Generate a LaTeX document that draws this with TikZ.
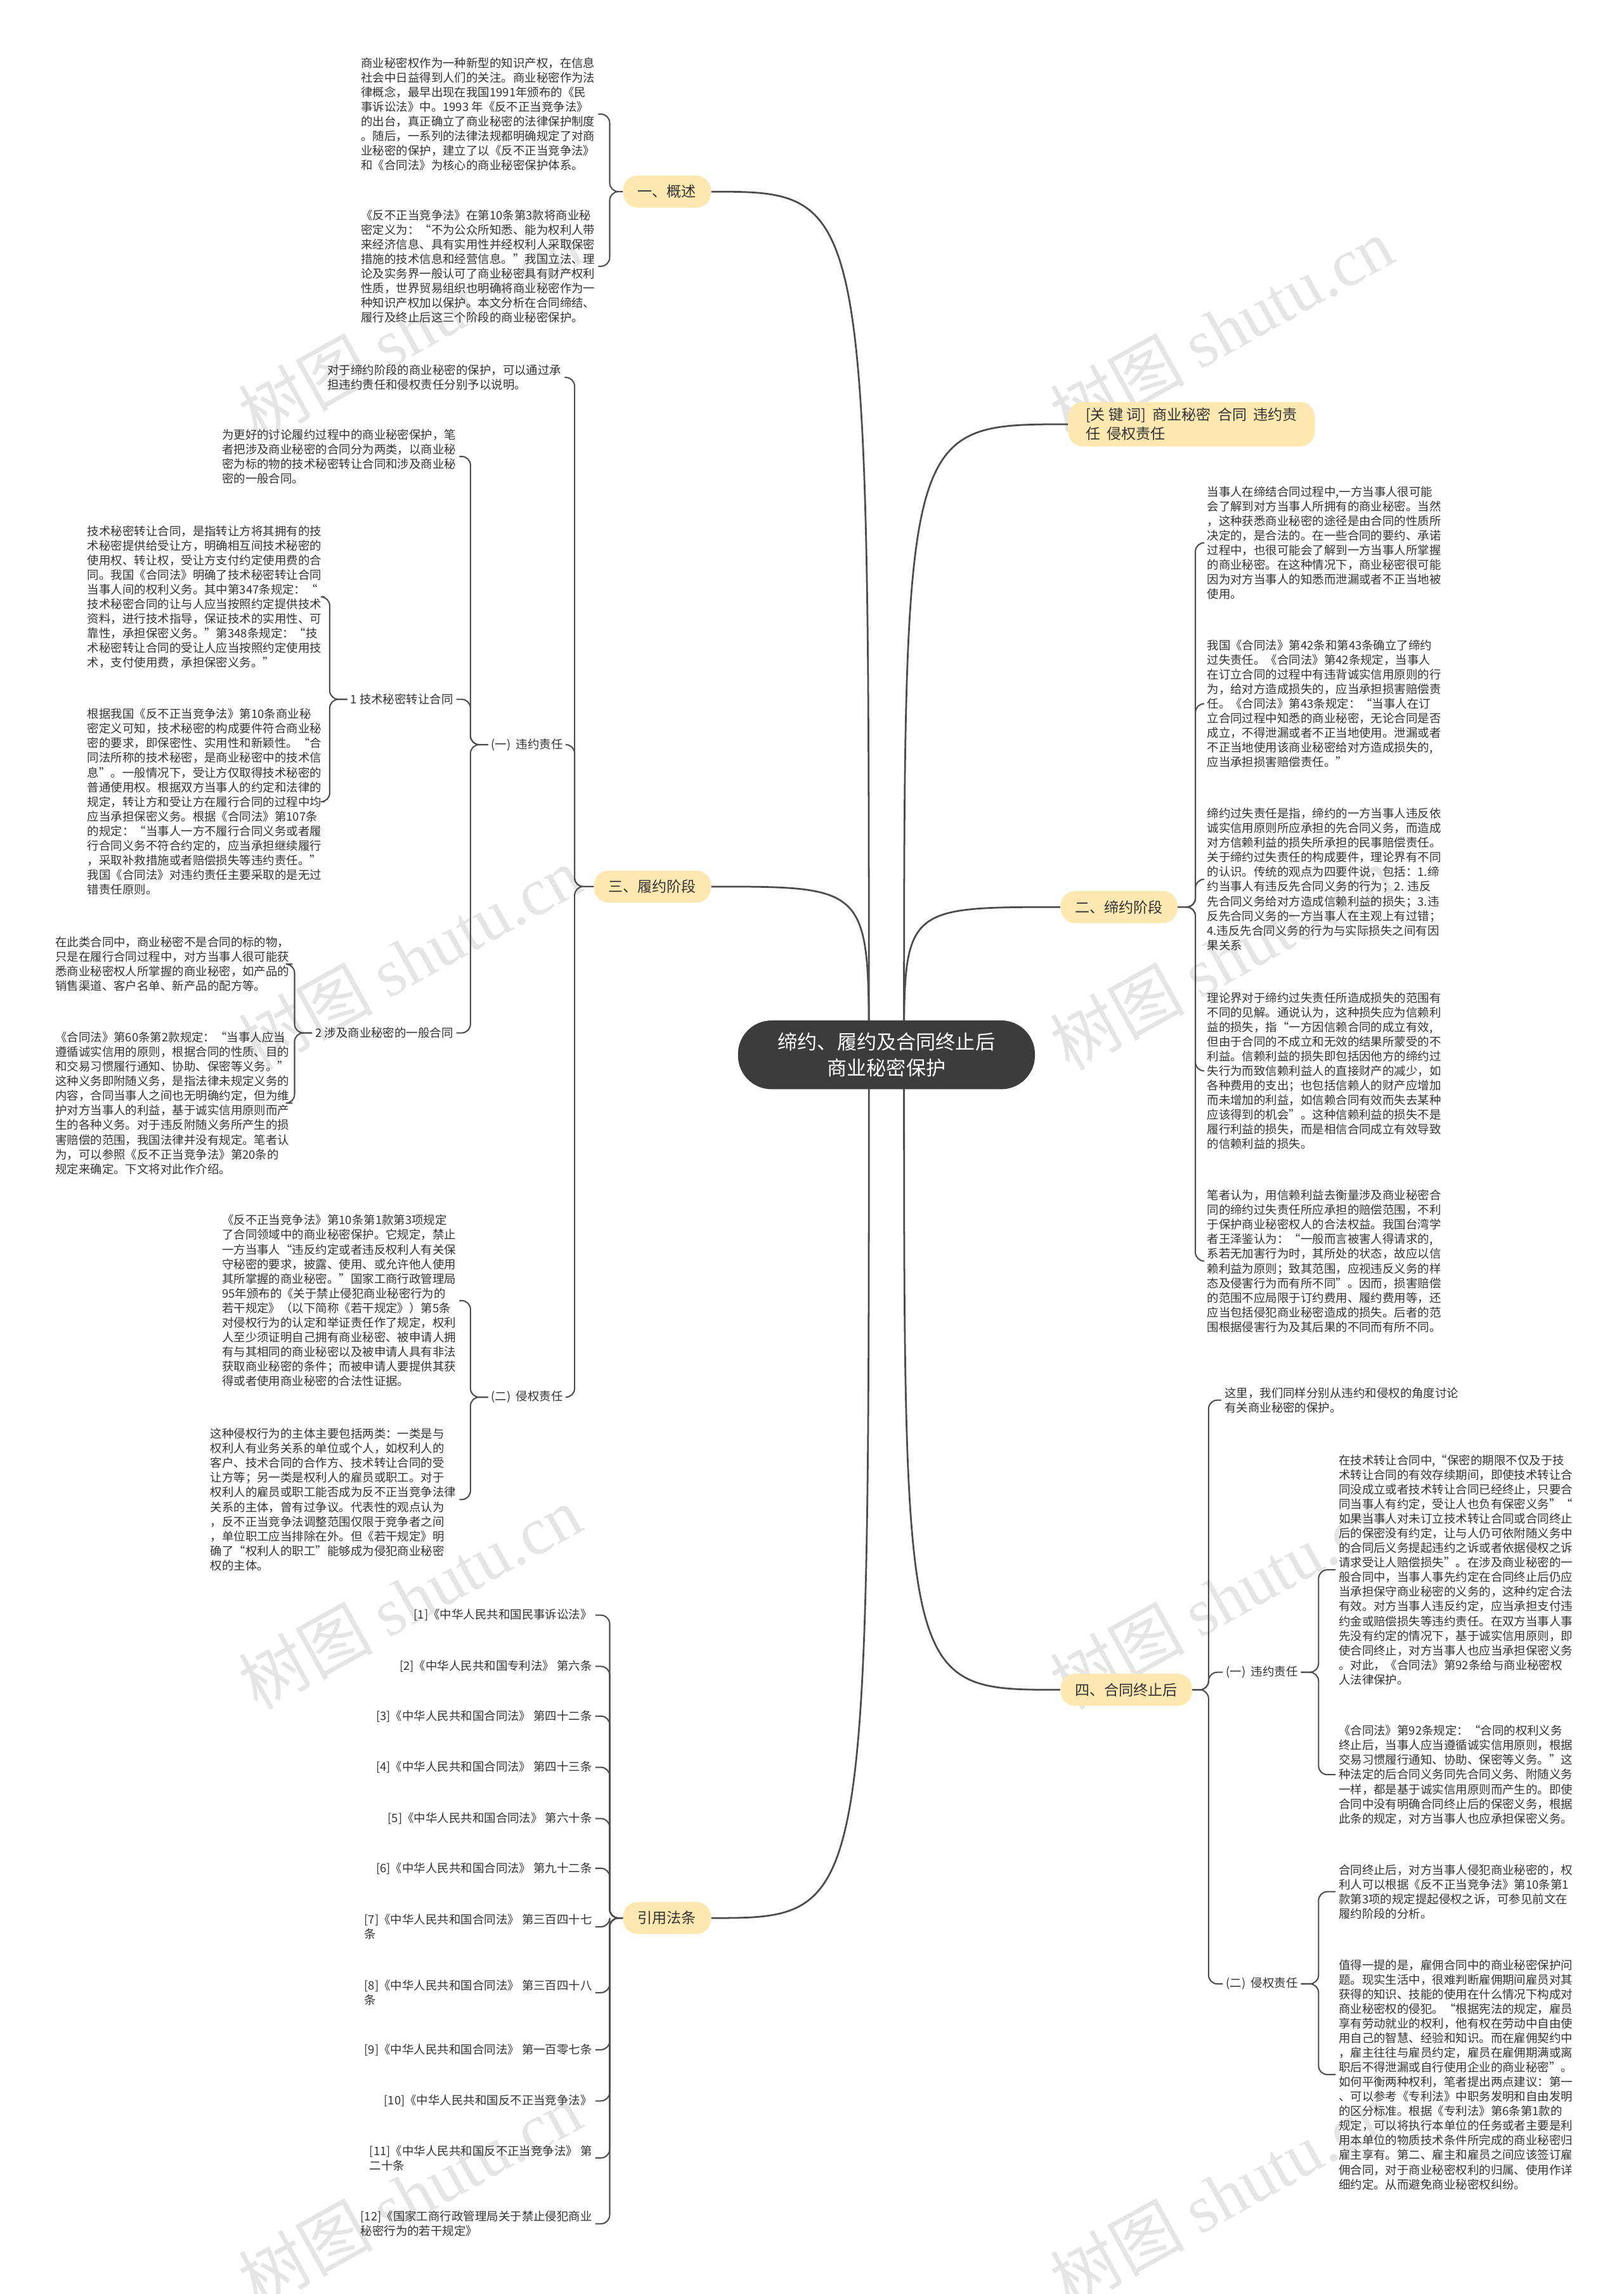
\documentclass[tikz,border=0pt]{standalone}
\usepackage{fontspec}
\setmainfont{Noto Sans CJK SC}
\newfontfamily\wmfont{Liberation Serif}
\usetikzlibrary{calc,backgrounds}
\definecolor{lk}{HTML}{4D4D4D}
\definecolor{rootbg}{HTML}{3C3C3C}
\definecolor{topicbg}{HTML}{FDE8B2}
\definecolor{txt}{HTML}{333333}
\tikzset{
  leaf/.style={inner sep=2pt, align=left, text=txt, font=\fontsize{8}{10}\selectfont},
  sublabel/.style={inner sep=2pt, text=txt, font=\fontsize{8}{10}\selectfont},
  topic/.style={fill=topicbg, rounded corners=10pt, minimum height=22pt, inner xsep=10pt, text=txt, font=\fontsize{10}{12}\selectfont},
  link/.style={draw=lk, line width=0.9pt, rounded corners=6pt},
  mainlink/.style={draw=lk, line width=1.2pt},
  wm/.style={rotate=29, text=gray!20, font=\fontsize{46}{46}\selectfont}
}
\begin{document}
\begin{tikzpicture}[x=1pt,y=-1pt]
\useasboundingbox (0,0) rectangle (1110,1568);

% centre and main topics
\node[fill=rootbg, text=white, rounded corners=23pt, minimum width=203pt, minimum height=47pt, align=center,
  font=\fontsize{13.5}{18}\selectfont] (root) at (606,721) {缔约、履约及合同终止后\\商业秘密保护};
\node[topic] (b1) at (456,131) {一、概述};
\node[topic] (b3) at (446,606) {三、履约阶段};
\node[topic] (bref) at (456,1311) {引用法条};
\node[topic, anchor=west, align=left, inner xsep=12pt, inner ysep=4pt, font=\fontsize{10}{13}\selectfont] (kw) at (730,290)
  {[关\ 键\ 词]\ \ 商业秘密\ \ 合同\ \ 违约责\\任\ \ 侵权责任};
\node[topic] (b2) at (765,620) {二、缔约阶段};
\node[topic] (b4) at (770,1155) {四、合同终止后};

% overview
\node[leaf, anchor=east] (gs1) at (409,78) {商业秘密权作为一种新型的知识产权，在信息\\
社会中日益得到人们的关注。商业秘密作为法\\
律概念，最早出现在我国1991年颁布的《民\\
事诉讼法》中。1993 年《反不正当竞争法》\\
的出台，真正确立了商业秘密的法律保护制度\\
。随后，一系列的法律法规都明确规定了对商\\
业秘密的保护，建立了以《反不正当竞争法》\\
和《合同法》为核心的商业秘密保护体系。};
\node[leaf, anchor=east] (gs2) at (409,182) {《反不正当竞争法》在第10条第3款将商业秘\\
密定义为：“不为公众所知悉、能为权利人带\\
来经济信息、具有实用性并经权利人采取保密\\
措施的技术信息和经营信息。”我国立法、理\\
论及实务界一般认可了商业秘密具有财产权利\\
性质，世界贸易组织也明确将商业秘密作为一\\
种知识产权加以保护。本文分析在合同缔结、\\
履行及终止后这三个阶段的商业秘密保护。};

% performance stage
\node[leaf, anchor=east] (ly0) at (386,258) {对于缔约阶段的商业秘密的保护，可以通过承\\担违约责任和侵权责任分别予以说明。};
\node[sublabel, anchor=east] (lywy) at (387,509) {(一)~~违约责任};
\node[sublabel, anchor=east] (lyqq) at (387,955) {(二)~~侵权责任};
\node[leaf, anchor=east] (ly1) at (314,312) {为更好的讨论履约过程中的商业秘密保护，笔\\者把涉及商业秘密的合同分为两类，以商业秘\\密为标的物的技术秘密转让合同和涉及商业秘\\密的一般合同。};
\node[sublabel, anchor=east] (lyjs) at (312,478) {1 技术秘密转让合同};
\node[sublabel, anchor=east] (lyyb) at (312,706) {2 涉及商业秘密的一般合同};
\node[leaf, anchor=east] (ly2) at (222,408) {技术秘密转让合同，是指转让方将其拥有的技\\
术秘密提供给受让方，明确相互间技术秘密的\\
使用权、转让权，受让方支付约定使用费的合\\
同。我国《合同法》明确了技术秘密转让合同\\
当事人间的权利义务。其中第347条规定：“\\
技术秘密合同的让与人应当按照约定提供技术\\
资料，进行技术指导，保证技术的实用性、可\\
靠性，承担保密义务。”第348条规定：“技\\
术秘密转让合同的受让人应当按照约定使用技\\
术，支付使用费，承担保密义务。”};
\node[leaf, anchor=east] (ly3) at (222,548) {根据我国《反不正当竞争法》第10条商业秘\\
密定义可知，技术秘密的构成要件符合商业秘\\
密的要求，即保密性、实用性和新颖性。“合\\
同法所称的技术秘密，是商业秘密中的技术信\\
息”。一般情况下，受让方仅取得技术秘密的\\
普通使用权。根据双方当事人的约定和法律的\\
规定，转让方和受让方在履行合同的过程中均\\
应当承担保密义务。根据《合同法》第107条\\
的规定：“当事人一方不履行合同义务或者履\\
行合同义务不符合约定的，应当承担继续履行\\
，采取补救措施或者赔偿损失等违约责任。”\\
我国《合同法》对违约责任主要采取的是无过\\
错责任原则。};
\node[leaf, anchor=east] (ly4) at (200,659) {在此类合同中，商业秘密不是合同的标的物，\\
只是在履行合同过程中，对方当事人很可能获\\
悉商业秘密权人所掌握的商业秘密，如产品的\\
销售渠道、客户名单、新产品的配方等。};
\node[leaf, anchor=east] (ly5) at (200,754) {《合同法》第60条第2款规定：“当事人应当\\
遵循诚实信用的原则，根据合同的性质、目的\\
和交易习惯履行通知、协助、保密等义务。”\\
这种义务即附随义务，是指法律未规定义务的\\
内容，合同当事人之间也无明确约定，但为维\\
护对方当事人的利益，基于诚实信用原则而产\\
生的各种义务。对于违反附随义务所产生的损\\
害赔偿的范围，我国法律并没有规定。笔者认\\
为，可以参照《反不正当竞争法》第20条的\\
规定来确定。下文将对此作介绍。};
\node[leaf, anchor=east] (ly6) at (314,889) {《反不正当竞争法》第10条第1款第3项规定\\
了合同领域中的商业秘密保护。它规定，禁止\\
一方当事人“违反约定或者违反权利人有关保\\
守秘密的要求，披露、使用、或允许他人使用\\
其所掌握的商业秘密。”国家工商行政管理局\\
95年颁布的《关于禁止侵犯商业秘密行为的\\
若干规定》（以下简称《若干规定》）第5条\\
对侵权行为的认定和举证责任作了规定，权利\\
人至少须证明自己拥有商业秘密、被申请人拥\\
有与其相同的商业秘密以及被申请人具有非法\\
获取商业秘密的条件；而被申请人要提供其获\\
得或者使用商业秘密的合法性证据。};
\node[leaf, anchor=east] (ly7) at (314,1025) {这种侵权行为的主体主要包括两类：一类是与\\
权利人有业务关系的单位或个人，如权利人的\\
客户、技术合同的合作方、技术转让合同的受\\
让方等；另一类是权利人的雇员或职工。对于\\
权利人的雇员或职工能否成为反不正当竞争法律\\
关系的主体，曾有过争议。代表性的观点认为\\
，反不正当竞争法调整范围仅限于竞争者之间\\
，单位职工应当排除在外。但《若干规定》明\\
确了“权利人的职工”能够成为侵犯商业秘密\\
权的主体。};

% cited laws
\foreach \y/\t [count=\i] in {
  1104/{[1]《中华人民共和国民事诉讼法》},
  1139/{[2]《中华人民共和国专利法》 第六条},
  1173/{[3]《中华人民共和国合同法》 第四十二条},
  1208/{[4]《中华人民共和国合同法》 第四十三条},
  1243/{[5]《中华人民共和国合同法》 第六十条},
  1277/{[6]《中华人民共和国合同法》 第九十二条},
  1317/{[7]《中华人民共和国合同法》 第三百四十七\\条},
  1362/{[8]《中华人民共和国合同法》 第三百四十八\\条},
  1401/{[9]《中华人民共和国合同法》 第一百零七条},
  1436/{[10]《中华人民共和国反不正当竞争法》},
  1475/{[11]《中华人民共和国反不正当竞争法》 第\\二十条},
  1520/{[12]《国家工商行政管理局关于禁止侵犯商业\\秘密行为的若干规定》}}
  \node[leaf, anchor=east] (r\i) at (407,\y) {\t};

% contract conclusion stage
\node[leaf, anchor=west] (dy1) at (823,371) {当事人在缔结合同过程中,一方当事人很可能\\
会了解到对方当事人所拥有的商业秘密。当然\\
，这种获悉商业秘密的途径是由合同的性质所\\
决定的，是合法的。在一些合同的要约、承诺\\
过程中，也很可能会了解到一方当事人所掌握\\
的商业秘密。在这种情况下，商业秘密很可能\\
因为对方当事人的知悉而泄漏或者不正当地被\\
使用。};
\node[leaf, anchor=west] (dy2) at (823,481) {我国《合同法》第42条和第43条确立了缔约\\
过失责任。《合同法》第42条规定，当事人\\
在订立合同的过程中有违背诚实信用原则的行\\
为，给对方造成损失的，应当承担损害赔偿责\\
任。《合同法》第43条规定：“当事人在订\\
立合同过程中知悉的商业秘密，无论合同是否\\
成立，不得泄漏或者不正当地使用。泄漏或者\\
不正当地使用该商业秘密给对方造成损失的,\\
应当承担损害赔偿责任。”};
\node[leaf, anchor=west] (dy3) at (823,601) {缔约过失责任是指，缔约的一方当事人违反依\\
诚实信用原则所应承担的先合同义务，而造成\\
对方信赖利益的损失所承担的民事赔偿责任。\\
关于缔约过失责任的构成要件，理论界有不同\\
的认识。传统的观点为四要件说，包括：1.缔\\
约当事人有违反先合同义务的行为；2. 违反\\
先合同义务给对方造成信赖利益的损失；3.违\\
反先合同义务的一方当事人在主观上有过错；\\
4.违反先合同义务的行为与实际损失之间有因\\
果关系};
\node[leaf, anchor=west] (dy4) at (823,732) {理论界对于缔约过失责任所造成损失的范围有\\
不同的见解。通说认为，这种损失应为信赖利\\
益的损失，指“一方因信赖合同的成立有效,\\
但由于合同的不成立和无效的结果所蒙受的不\\
利益。信赖利益的损失即包括因他方的缔约过\\
失行为而致信赖利益人的直接财产的减少，如\\
各种费用的支出；也包括信赖人的财产应增加\\
而未增加的利益，如信赖合同有效而失去某种\\
应该得到的机会”。这种信赖利益的损失不是\\
履行利益的损失，而是相信合同成立有效导致\\
的信赖利益的损失。};
\node[leaf, anchor=west] (dy5) at (823,862) {笔者认为，用信赖利益去衡量涉及商业秘密合\\
同的缔约过失责任所应承担的赔偿范围，不利\\
于保护商业秘密权人的合法权益。我国台湾学\\
者王泽鉴认为：“一般而言被害人得请求的,\\
系若无加害行为时，其所处的状态，故应以信\\
赖利益为原则；致其范围，应视违反义务的样\\
态及侵害行为而有所不同”。因而，损害赔偿\\
的范围不应局限于订约费用、履约费用等，还\\
应当包括侵犯商业秘密造成的损失。后者的范\\
围根据侵害行为及其后果的不同而有所不同。};

% after termination
\node[leaf, anchor=west] (zz0) at (835,957) {这里，我们同样分别从违约和侵权的角度讨论\\有关商业秘密的保护。};
\node[sublabel, anchor=west] (zzwy) at (836,1143) {(一)~~违约责任};
\node[sublabel, anchor=west] (zzqq) at (836,1356) {(二)~~侵权责任};
\node[leaf, anchor=west] (zz1) at (913,1073) {在技术转让合同中,“保密的期限不仅及于技\\
术转让合同的有效存续期间，即使技术转让合\\
同没成立或者技术转让合同已经终止，只要合\\
同当事人有约定，受让人也负有保密义务”“\\
如果当事人对未订立技术转让合同或合同终止\\
后的保密没有约定，让与人仍可依附随义务中\\
的合同后义务提起违约之诉或者依据侵权之诉\\
请求受让人赔偿损失”。在涉及商业秘密的一\\
般合同中，当事人事先约定在合同终止后仍应\\
当承担保守商业秘密的义务的，这种约定合法\\
有效。对方当事人违反约定，应当承担支付违\\
约金或赔偿损失等违约责任。在双方当事人事\\
先没有约定的情况下，基于诚实信用原则，即\\
使合同终止，对方当事人也应当承担保密义务\\
。对此，《合同法》第92条给与商业秘密权\\
人法律保护。};
\node[leaf, anchor=west] (zz2) at (913,1213) {《合同法》第92条规定：“合同的权利义务\\
终止后，当事人应当遵循诚实信用原则，根据\\
交易习惯履行通知、协助、保密等义务。”这\\
种法定的后合同义务同先合同义务、附随义务\\
一样，都是基于诚实信用原则而产生的。即使\\
合同中没有明确合同终止后的保密义务，根据\\
此条的规定，对方当事人也应承担保密义务。};
\node[leaf, anchor=west] (zz3) at (913,1293) {合同终止后，对方当事人侵犯商业秘密的，权\\
利人可以根据《反不正当竞争法》第10条第1\\
款第3项的规定提起侵权之诉，可参见前文在\\
履约阶段的分析。};
\node[leaf, anchor=west] (zz4) at (913,1418) {值得一提的是，雇佣合同中的商业秘密保护问\\
题。现实生活中，很难判断雇佣期间雇员对其\\
获得的知识、技能的使用在什么情况下构成对\\
商业秘密权的侵犯。“根据宪法的规定，雇员\\
享有劳动就业的权利，他有权在劳动中自由使\\
用自己的智慧、经验和知识。而在雇佣契约中\\
，雇主往往与雇员约定，雇员在雇佣期满或离\\
职后不得泄漏或自行使用企业的商业秘密”。\\
如何平衡两种权利，笔者提出两点建议：第一\\
、可以参考《专利法》中职务发明和自由发明\\
的区分标准。根据《专利法》第6条第1款的\\
规定，可以将执行本单位的任务或者主要是利\\
用本单位的物质技术条件所完成的商业秘密归\\
雇主享有。第二、雇主和雇员之间应该签订雇\\
佣合同，对于商业秘密权利的归属、使用作详\\
细约定。从而避免商业秘密权纠纷。};

% brackets
\foreach \c in {gs1,gs2} \draw[link] (b1.west) -- ++(-9,0) |- (\c.east);
\foreach \c in {ly0,lywy,lyqq} \draw[link] (b3.west) -- ++(-13,0) |- (\c.east);
\foreach \c in {ly1,lyjs,lyyb} \draw[link] (lywy.west) -- ++(-12,0) |- (\c.east);
\foreach \c in {ly2,ly3} \draw[link] (lyjs.west) -- ++(-12,0) |- (\c.east);
\foreach \c in {ly4,ly5} \draw[link] (lyyb.west) -- ++(-12,0) |- (\c.east);
\foreach \c in {ly6,ly7} \draw[link] (lyqq.west) -- ++(-12,0) |- (\c.east);
\foreach \i in {1,...,12} \draw[link] (bref.west) -- ++(-9,0) |- (r\i.east);
\foreach \c in {dy1,dy2,dy3,dy4,dy5} \draw[link] (b2.east) -- ++(12,0) |- (\c.west);
\foreach \c in {zz0,zzwy,zzqq} \draw[link] (b4.east) -- ++(11,0) |- (\c.west);
\foreach \c in {zz1,zz2} \draw[link] (zzwy.east) -- ++(12,0) |- (\c.west);
\foreach \c in {zz3,zz4} \draw[link] (zzqq.east) -- ++(12,0) |- (\c.west);

\begin{scope}[on background layer]
  % watermark
  \foreach \wx in {280,835} \foreach \wy in {225,655,1092,1500}
    \node[wm] at (\wx,\wy) {树图\ {\wmfont shutu.cn}};
  \coordinate (rl) at ($(root.center)+(-12,0)$);
  \coordinate (rr) at ($(root.center)+(12,0)$);
  \draw[mainlink] (rl) .. controls (rl |- b1) .. (b1.east);
  \draw[mainlink] (rl) .. controls (rl |- b3) .. (b3.east);
  \draw[mainlink] (rl) .. controls (rl |- bref) .. (bref.east);
  \draw[mainlink] (rr) .. controls (rr |- kw) .. (kw.west);
  \draw[mainlink] (rr) .. controls (rr |- b2) .. (b2.west);
  \draw[mainlink] (rr) .. controls (rr |- b4) .. (b4.west);
\end{scope}
\end{tikzpicture}
\end{document}
